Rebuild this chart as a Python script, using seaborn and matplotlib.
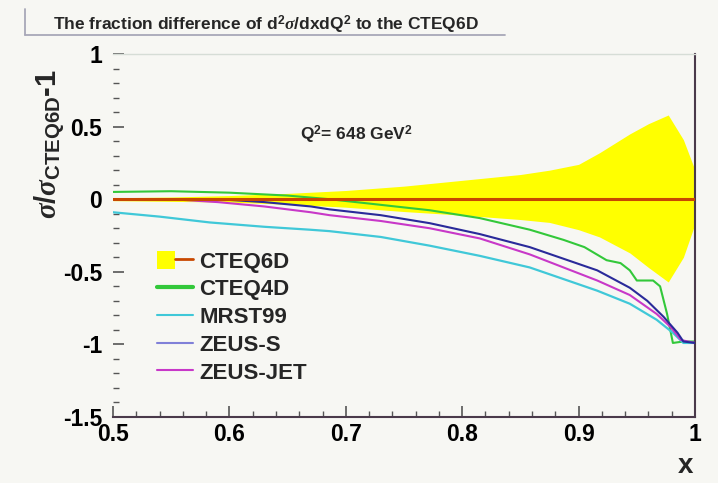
import numpy as np
import pandas as pd
import matplotlib
matplotlib.use("Agg")
import matplotlib.pyplot as plt
import seaborn as sns
from matplotlib.lines import Line2D
from matplotlib.patches import Patch
from matplotlib.ticker import MultipleLocator
from matplotlib.legend_handler import HandlerTuple

# ---------------- data ----------------
band_x = [0.5, 0.55, 0.6, 0.65, 0.7, 0.75, 0.8, 0.85, 0.875, 0.9, 0.918, 0.944, 0.96, 0.977, 0.99, 1.0]
band_hi = [0.01, 0.015, 0.025, 0.04, 0.06, 0.09, 0.13, 0.17, 0.2, 0.24, 0.32, 0.45, 0.52, 0.58, 0.41, 0.2]
band_lo = [-0.01, -0.015, -0.02, -0.035, -0.055, -0.085, -0.11, -0.14, -0.16, -0.21, -0.26, -0.37, -0.47, -0.57, -0.40, -0.17]

cteq6d_x = [0.5, 1.0]
cteq6d_y = [0.0, 0.0]

cteq4d_x = [0.5, 0.55, 0.6, 0.65, 0.686, 0.72, 0.772, 0.815, 0.858, 0.887, 0.905, 0.924, 0.936,
            0.944, 0.95, 0.964, 0.97, 0.976, 0.981, 0.99, 1.0]
cteq4d_y = [0.05, 0.055, 0.045, 0.025, 0.0, -0.03, -0.076, -0.13, -0.21, -0.28, -0.33, -0.42, -0.44,
            -0.49, -0.56, -0.56, -0.6, -0.79, -0.99, -0.98, -0.98]

mrst99_x = [0.5, 0.54, 0.583, 0.63, 0.669, 0.686, 0.73, 0.772, 0.815, 0.858, 0.887, 0.916, 0.944,
            0.967, 0.981, 0.99, 1.0]
mrst99_y = [-0.09, -0.12, -0.16, -0.19, -0.21, -0.22, -0.26, -0.32, -0.39, -0.47, -0.55, -0.63, -0.72,
            -0.83, -0.92, -0.99, -0.99]

zeuss_x = [0.5, 0.55, 0.59, 0.63, 0.67, 0.686, 0.73, 0.772, 0.815, 0.858, 0.887, 0.916, 0.944,
           0.959, 0.973, 0.985, 0.99, 1.0]
zeuss_y = [0.0, 0.0, 0.0, -0.02, -0.05, -0.07, -0.11, -0.165, -0.24, -0.33, -0.41, -0.49, -0.61,
           -0.70, -0.81, -0.92, -0.98, -0.99]

zeusjet_x = [0.5, 0.55, 0.59, 0.63, 0.67, 0.686, 0.73, 0.772, 0.815, 0.858, 0.887, 0.916, 0.944,
             0.967, 0.979, 0.988, 1.0]
zeusjet_y = [0.0, 0.0, -0.02, -0.05, -0.09, -0.11, -0.15, -0.2, -0.27, -0.38, -0.47, -0.56, -0.66,
             -0.79, -0.88, -0.97, -0.99]

labels = ["CTEQ6D", "CTEQ4D", "MRST99", "ZEUS-S", "ZEUS-JET"]
title = r"The fraction difference of d$^{2}\sigma$/dxdQ$^{2}$ to the CTEQ6D"
annot = r"Q$^{2}$= 648 GeV$^{2}$"

# ---------------- style ----------------
bg = "#f7f7f3"
c_band = "#ffff00"
c_6d = "#c84800"
c_4d = "#33c83a"
c_mrst = "#40c8d8"
c_zs = "#2a2a9a"
c_zs_leg = "#8080d8"
c_zj = "#c838c8"

sns.set_theme(style="white")
plt.rcParams["font.family"] = ["Liberation Sans", "DejaVu Sans"]
plt.rcParams["font.weight"] = "bold"
plt.rcParams["axes.unicode_minus"] = False
plt.rcParams["mathtext.fontset"] = "custom"
plt.rcParams["mathtext.rm"] = "Liberation Sans:bold"
plt.rcParams["mathtext.bf"] = "Liberation Sans:bold"
plt.rcParams["mathtext.it"] = "Liberation Serif:italic"

fig = plt.figure(figsize=(7.18, 4.83), dpi=100, facecolor=bg)
ax = fig.add_axes([113 / 718, 1 - 417 / 483, 582 / 718, 363 / 483])
ax.set_facecolor(bg)

ax.fill_between(band_x, band_lo, band_hi, color=c_band, linewidth=0, zorder=1)
sns.lineplot(x=cteq4d_x, y=cteq4d_y, color=c_4d, lw=1.5, ax=ax, zorder=2)
sns.lineplot(x=mrst99_x, y=mrst99_y, color=c_mrst, lw=1.6, ax=ax, zorder=2)
sns.lineplot(x=zeusjet_x, y=zeusjet_y, color=c_zj, lw=1.5, ax=ax, zorder=3)
sns.lineplot(x=zeuss_x, y=zeuss_y, color=c_zs, lw=1.5, ax=ax, zorder=3)
sns.lineplot(x=cteq6d_x, y=cteq6d_y, color=c_6d, lw=2.2, ax=ax, zorder=4)

ax.set_xlim(0.5, 1.0)
ax.set_ylim(-1.5, 1.0)
ax.set_xlabel("")
ax.set_ylabel("")
ax.xaxis.set_major_locator(MultipleLocator(0.1))
ax.xaxis.set_minor_locator(MultipleLocator(0.02))
ax.yaxis.set_major_locator(MultipleLocator(0.5))
ax.yaxis.set_minor_locator(MultipleLocator(0.1))
ax.tick_params(which="both", direction="in", left=True, bottom=True, top=False, right=False,
               colors="#555555", labelcolor="black", labelsize=16.5)
ax.tick_params(which="major", length=8, width=1.2)
ax.tick_params(which="minor", length=4, width=1.0)
ax.tick_params(axis="y", which="major", pad=8)
ax.tick_params(axis="x", which="major", pad=4)
ax.xaxis.set_major_formatter(matplotlib.ticker.FuncFormatter(lambda v, p: f"{v:g}"))
ax.yaxis.set_major_formatter(matplotlib.ticker.FuncFormatter(lambda v, p: f"{v:g}"))

ax.spines["left"].set_visible(False)
ax.spines["top"].set_color("#d6ddd6")
ax.spines["top"].set_linewidth(1.0)
for s in ("bottom", "right"):
    ax.spines[s].set_color("#4a3a4a")
    ax.spines[s].set_linewidth(1.5)

handles = [
    (Patch(facecolor=c_band, edgecolor="none"), Line2D([], [], color=c_6d, lw=2)),
    Line2D([], [], color=c_4d, lw=3),
    Line2D([], [], color=c_mrst, lw=1.5),
    Line2D([], [], color=c_zs_leg, lw=1.5),
    Line2D([], [], color=c_zj, lw=1.5),
]
ax.legend(handles, labels, handler_map={tuple: HandlerTuple(ndivide=None, pad=0)},
          loc="upper left", bbox_to_anchor=((157 - 113) / 582, (417 - 251) / 363),
          frameon=False, fontsize=16, handlelength=1.6, handletextpad=0.3,
          labelspacing=0.28, borderpad=0, borderaxespad=0, handleheight=0.85)

fig.text(413 / 718, 1 - 140 / 483, annot, fontsize=12.5, ha="right", va="baseline")

fig.text(0.070, 1 - 144 / 483, r"$\sigma/\sigma_{\mathbf{CTEQ6D}}$-1", rotation=90,
         fontsize=21, ha="center", va="center")
fig.text(693 / 718, 1 - 466 / 483, "x", fontsize=20, ha="right", va="center")

fig.text(53 / 718, 1 - 25 / 483, title, fontsize=12.5, ha="left", va="center")
fig.add_artist(Line2D([25 / 718, 25 / 718], [1 - 9 / 483, 1 - 35 / 483],
                      transform=fig.transFigure, color="#a8a8b8", lw=1.3))
fig.add_artist(Line2D([25 / 718, 505 / 718], [1 - 35 / 483, 1 - 35 / 483],
                      transform=fig.transFigure, color="#a8a8b8", lw=1.3))

fig.savefig("out.png", dpi=100, facecolor=bg)
